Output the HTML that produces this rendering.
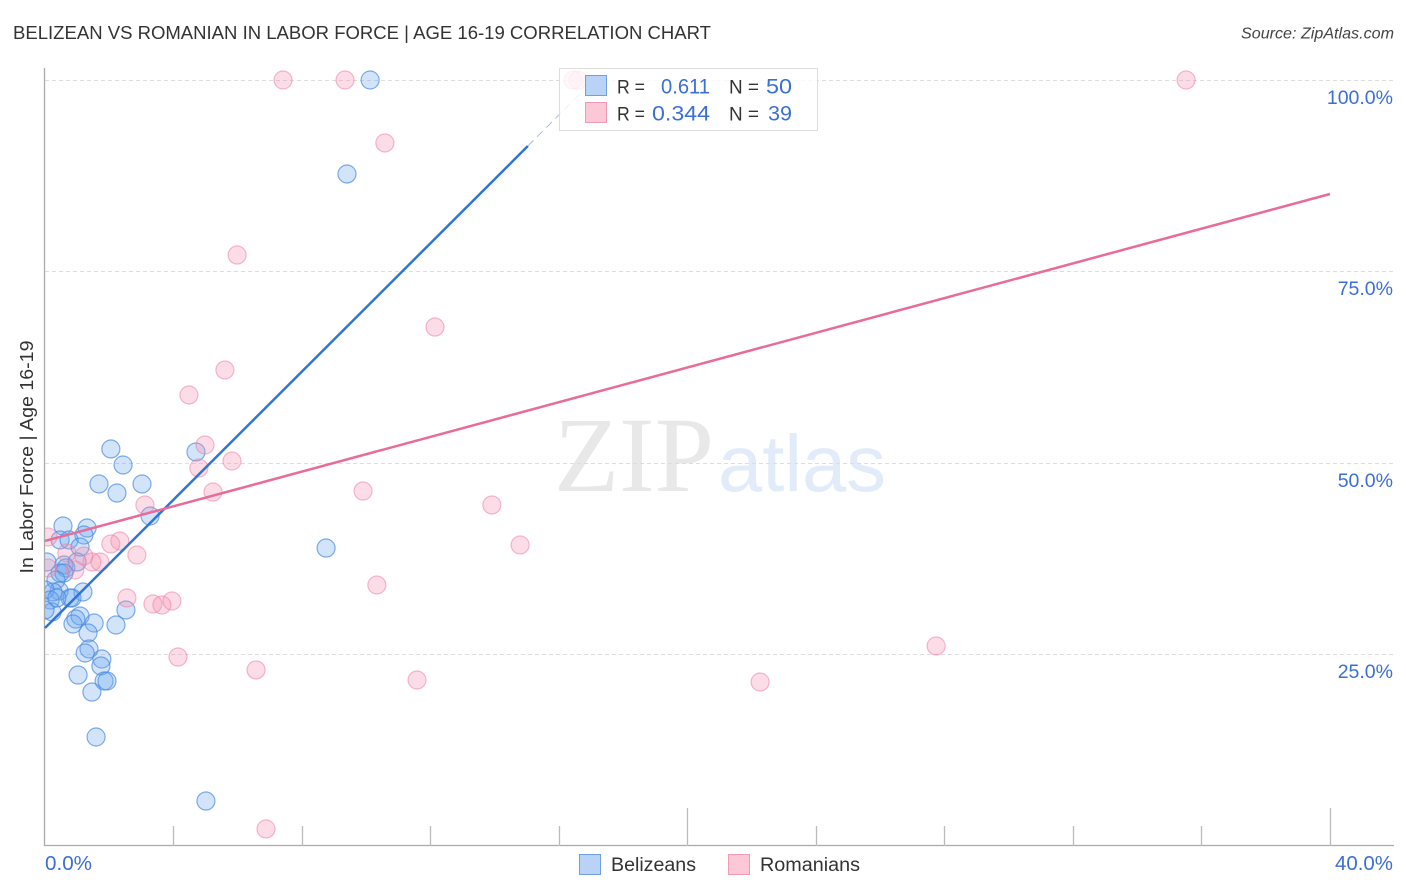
<!DOCTYPE html>
<html lang="en">
<head>
<meta charset="utf-8">
<title>Belizean vs Romanian in Labor Force | Age 16-19 Correlation Chart</title>
<style>
html,body{margin:0;padding:0;background:#fff;}
svg{display:block;font-family:"Liberation Sans",sans-serif;}
</style>
</head>
<body>
<svg id="chart" xmlns="http://www.w3.org/2000/svg" width="1406" height="892" viewBox="0 0 1406 892">
  <defs>
    <clipPath id="plot-clip"><rect x="45" y="60" width="1350" height="786"/></clipPath>
  </defs>
  <rect x="0" y="0" width="1406" height="892" fill="#ffffff"/>
  <text x="13" y="39" font-size="18.5" fill="#333333" textLength="698" lengthAdjust="spacingAndGlyphs">BELIZEAN VS ROMANIAN IN LABOR FORCE | AGE 16-19 CORRELATION CHART</text>
  <text x="1394" y="38.500" font-size="16" font-style="italic" fill="#444444" text-anchor="end" textLength="153" lengthAdjust="spacingAndGlyphs">Source: ZipAtlas.com</text>
  <text x="0" y="0" transform="translate(33,457) rotate(-90)" font-size="18.500" fill="#333333" text-anchor="middle" textLength="233" lengthAdjust="spacingAndGlyphs">In Labor Force | Age 16-19</text>
  <g>
    <text x="554" y="491" font-family="'Liberation Serif',serif" font-size="107" fill="#e8e8e8" textLength="160" lengthAdjust="spacingAndGlyphs">ZIP</text>
    <text x="718" y="491" font-size="80" fill="#e2ebf9" textLength="168" lengthAdjust="spacingAndGlyphs">atlas</text>
  </g>
  <g id="grid"></g>
  <g id="axes"></g>
  <g id="pts-blue" clip-path="url(#plot-clip)"></g>
  <g id="pts-pink" clip-path="url(#plot-clip)"></g>
  <g id="trends"></g>
  <g>
    <rect x="559.500" y="68.500" width="258" height="62" fill="#ffffff" fill-opacity="0.8" stroke="#dddddd" stroke-width="1"/>
    <rect x="585.500" y="75.500" width="21" height="20" fill="#b8d3f6" stroke="#6f9fe0" stroke-width="1"/>
    <rect x="585.500" y="102.500" width="21" height="20" fill="#fcc8d8" stroke="#f09ab4" stroke-width="1"/>
    <text x="617" y="93.500" font-size="19" fill="#333333" textLength="28" lengthAdjust="spacingAndGlyphs">R =</text>
    <text x="661" y="93.500" font-size="21" fill="#3b6fd4" textLength="49" lengthAdjust="spacingAndGlyphs">0.611</text>
    <text x="729" y="93.500" font-size="19" fill="#333333" textLength="30" lengthAdjust="spacingAndGlyphs">N =</text>
    <text x="766" y="93.500" font-size="21" fill="#3b6fd4" textLength="26" lengthAdjust="spacingAndGlyphs">50</text>
    <text x="617" y="120.500" font-size="19" fill="#333333" textLength="28" lengthAdjust="spacingAndGlyphs">R =</text>
    <text x="652" y="120.500" font-size="21" fill="#3b6fd4" textLength="58" lengthAdjust="spacingAndGlyphs">0.344</text>
    <text x="729" y="120.500" font-size="19" fill="#333333" textLength="30" lengthAdjust="spacingAndGlyphs">N =</text>
    <text x="768" y="120.500" font-size="21" fill="#3b6fd4" textLength="24" lengthAdjust="spacingAndGlyphs">39</text>
  </g>
  <g>
    <rect x="579.500" y="854.500" width="21" height="20" fill="#b8d3f6" stroke="#6f9fe0" stroke-width="1"/>
    <text x="611" y="871" font-size="19" fill="#333333" textLength="85" lengthAdjust="spacingAndGlyphs">Belizeans</text>
    <rect x="728.500" y="854.500" width="21" height="20" fill="#fcc8d8" stroke="#f09ab4" stroke-width="1"/>
    <text x="760" y="871" font-size="19" fill="#333333" textLength="100" lengthAdjust="spacingAndGlyphs">Romanians</text>
  </g>
</svg>
<script>
var belizeanX = [10.12,9.40,2.05,2.43,4.70,1.68,2.24,3.02,3.27,0.56,1.31,1.21,0.47,0.75,1.09,8.75,0.59,0.65,1.00,0.47,0.59,0.34,0.06,0.44,0.25,1.18,0.00,0.16,0.78,0.84,0.22,1.09,0.96,2.52,0.87,2.21,1.53,1.34,1.37,1.25,1.77,1.74,1.03,1.84,1.93,1.46,1.59,5.01,0.00,0.37];
var belizeanY = [100.0,87.73,51.83,49.74,51.44,47.26,46.08,47.26,43.08,41.78,41.51,40.60,39.95,39.95,39.03,38.90,36.68,36.29,37.08,35.64,35.64,34.73,37.08,33.29,33.16,33.16,33.42,32.11,32.38,32.38,30.55,30.03,29.63,30.81,28.98,28.85,29.11,27.81,25.72,25.20,24.41,23.50,22.32,21.54,21.54,20.10,14.23,5.87,30.81,32.38];
var romanianX = [7.41,9.34,16.44,16.59,35.52,10.58,5.98,12.14,5.60,4.48,4.98,4.79,5.82,5.23,9.90,3.11,13.91,14.79,0.09,2.33,2.05,2.86,0.68,1.71,1.46,1.21,0.93,10.33,2.55,3.36,3.64,3.95,4.14,6.57,11.58,22.26,27.74,6.88,0.09];
var romanianY = [100.0,100.0,100.0,100.0,100.0,91.78,77.15,67.75,62.14,58.88,52.35,49.35,50.26,46.21,46.34,44.52,44.52,39.30,40.34,39.82,39.43,37.99,38.25,37.08,37.08,37.86,36.03,34.07,32.38,31.59,31.46,31.98,24.67,22.98,21.67,21.41,26.11,2.22,36.29];
var belizeanTrendX = [0, 15.03];
var belizeanTrendY = [28.46, 91.38];
var belizeanTrendExtX = [15.03, 16.75];
var belizeanTrendExtY = [91.38, 98.6];
var romanianTrendX = [0, 40];
var romanianTrendY = [39.82, 85.12];
var yTickValues = [25, 50, 75, 100];
var yTickLabels = ["25.0%", "50.0%", "75.0%", "100.0%"];
var xTickValues = [4, 8, 12, 16, 20, 24, 28, 32, 36, 40];
var xLongTicks = [20, 40];
var xEndValues = [0, 40];
var xEndLabels = ["0.0%", "40.0%"];

function xScale(v) { return 45 + v * 32.125; }
function yScale(v) { return 846 - v * 7.66; }

var NS = "http://www.w3.org/2000/svg";
function make(tag, parent, attrs) {
  var el = document.createElementNS(NS, tag);
  for (var k in attrs) { el.setAttribute(k, attrs[k]); }
  parent.appendChild(el);
  return el;
}

var grid = document.getElementById("grid");
var axes = document.getElementById("axes");
var ptsBlue = document.getElementById("pts-blue");
var ptsPink = document.getElementById("pts-pink");
var trends = document.getElementById("trends");

yTickValues.forEach(function (v, i) {
  var y = Math.floor(yScale(v)) + 0.5;
  var line = make("line", grid, { x1: 45, x2: 1393, y1: y, y2: y, stroke: "#dddddd", "stroke-width": 1, "stroke-dasharray": "4 3" });
  
  
  var label = make("text", axes, { x: 1393, y: y + 23.5, "font-size": 19.5, fill: "#3b6fd4", "text-anchor": "end" });
  
  
  label.textContent = yTickLabels[i];
});

var yAxis = make("line", axes, { x1: 44.5, x2: 44.5, y1: 68, y2: 846, stroke: "#aaaaaa", "stroke-width": 1.3 });


var xAxis = make("line", axes, { x1: 44, x2: 1394, y1: 845.5, y2: 845.5, stroke: "#aaaaaa", "stroke-width": 1.3 });



xTickValues.forEach(function (v) {
  var x = Math.floor(xScale(v)) + 0.5;
  var top = xLongTicks.indexOf(v) >= 0 ? 808 : 826;
  var tick = make("line", axes, { x1: x, x2: x, y1: top, y2: 846, stroke: "#bbbbbb", "stroke-width": 1.3 });
  
  
});

xEndValues.forEach(function (v, i) {
  var label = make("text", axes, { x: i === 0 ? xScale(v) : 1393, y: 870, "font-size": 20, fill: "#3b6fd4", "text-anchor": i === 0 ? "start" : "end", textLength: i === 0 ? 47 : 58, lengthAdjust: "spacingAndGlyphs" });
  
  
  label.textContent = xEndLabels[i];
});

belizeanX.forEach(function (v, i) {
  var c = make("circle", ptsBlue, { cx: xScale(v), cy: yScale(belizeanY[i]), r: 9, fill: "#6aa5ee", "fill-opacity": 0.3, stroke: "#4a8ae0", "stroke-opacity": 0.7, "stroke-width": 1.2 });
  
  
});

romanianX.forEach(function (v, i) {
  var c = make("circle", ptsPink, { cx: xScale(v), cy: yScale(romanianY[i]), r: 9, fill: "#f58fb0", "fill-opacity": 0.3, stroke: "#ee7fa3", "stroke-opacity": 0.55, "stroke-width": 1.2 });
  
  
});

var ext = make("line", trends, { x1: xScale(belizeanTrendExtX[0]), y1: yScale(belizeanTrendExtY[0]), x2: xScale(belizeanTrendExtX[1]), y2: yScale(belizeanTrendExtY[1]), stroke: "#a9bfe0", "stroke-width": 1, "stroke-dasharray": "8 5" });


var blueLine = make("line", trends, { x1: xScale(belizeanTrendX[0]), y1: yScale(belizeanTrendY[0]), x2: xScale(belizeanTrendX[1]), y2: yScale(belizeanTrendY[1]), stroke: "#2f74d6", "stroke-width": 2.5 });


var pinkLine = make("line", trends, { x1: xScale(romanianTrendX[0]), y1: yScale(romanianTrendY[0]), x2: xScale(romanianTrendX[1]), y2: yScale(romanianTrendY[1]), stroke: "#e86c9a", "stroke-width": 2.5 });


</script>
</body>
</html>
